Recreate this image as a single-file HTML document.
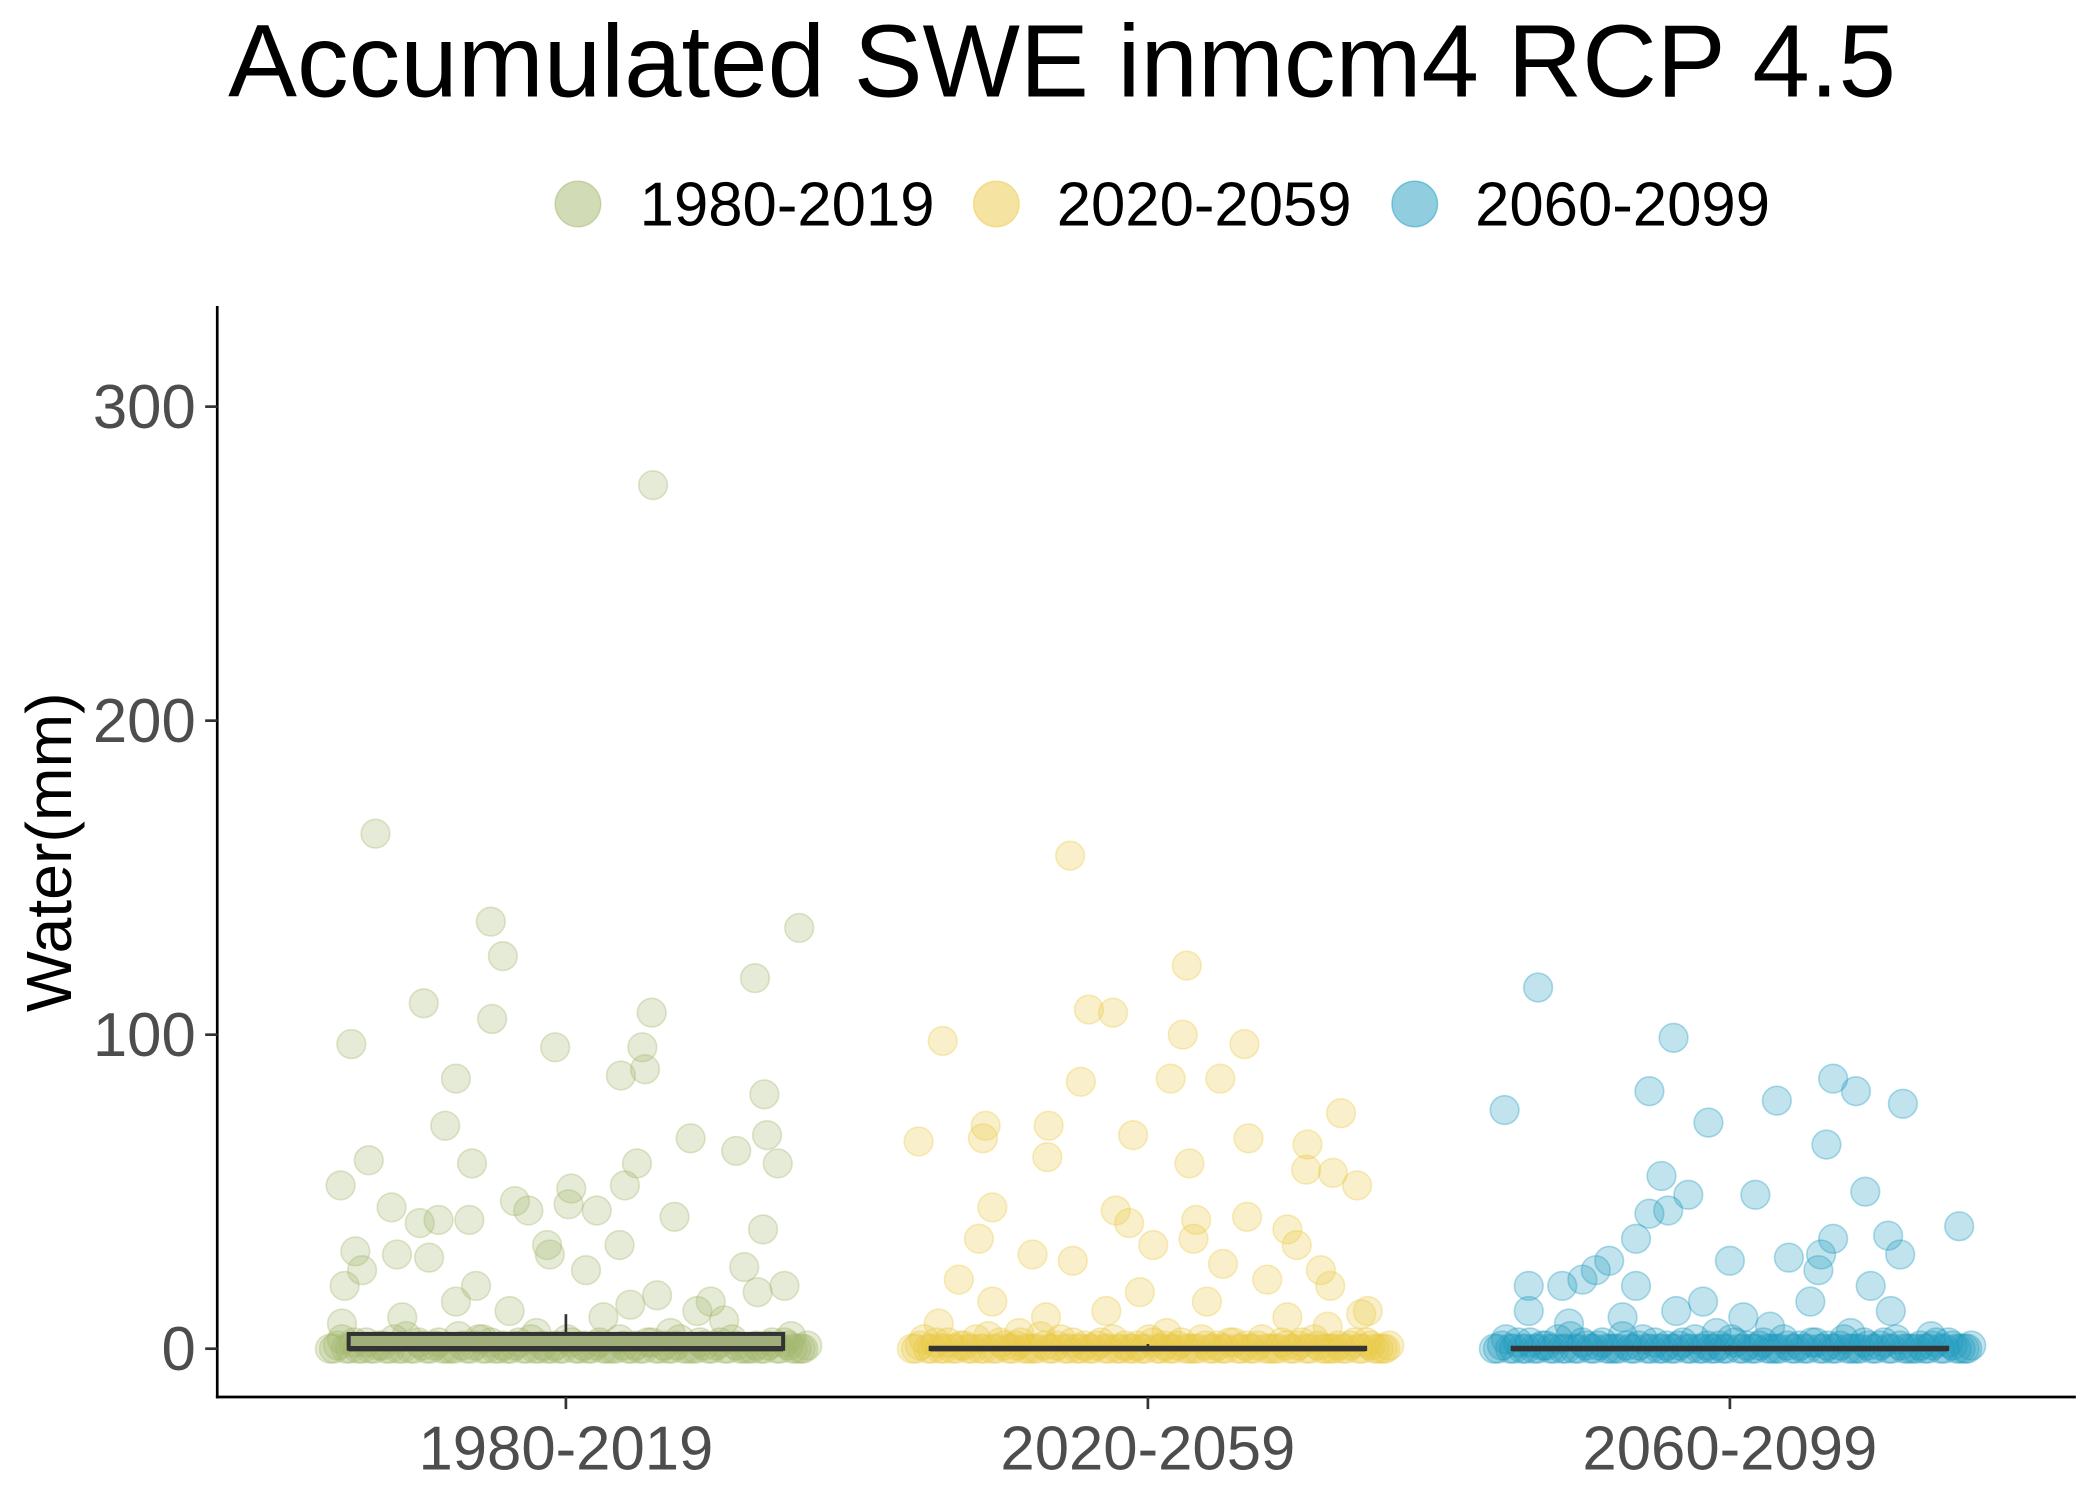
<!DOCTYPE html>
<html><head><meta charset="utf-8"><style>
html,body{margin:0;padding:0;background:#fff;}
svg{display:block;font-family:"Liberation Sans",sans-serif;}
</style></head><body>
<svg id="chart" width="2100" height="1499" viewBox="0 0 1566 1117" preserveAspectRatio="none">
<text x="792" y="72" font-size="77" text-anchor="middle" fill="#000">Accumulated SWE inmcm4 RCP 4.5</text>
<g>
<circle cx="431" cy="152" r="17" fill="#a3b86c" fill-opacity="0.5" stroke="#a3b86c" stroke-opacity="0.5"/>
<text x="477" y="168" font-size="46">1980-2019</text>
<circle cx="743" cy="152" r="17" fill="#ebc944" fill-opacity="0.5" stroke="#ebc944" stroke-opacity="0.5"/>
<text x="788" y="168" font-size="46">2020-2059</text>
<circle cx="1055" cy="152" r="17" fill="#1f9bc0" fill-opacity="0.5" stroke="#1f9bc0" stroke-opacity="0.5"/>
<text x="1100" y="168" font-size="46">2060-2099</text>
</g>
<g id="plot"></g>
<line x1="162" y1="228" x2="162" y2="1042" stroke="#000" stroke-width="2"/>
<line x1="161" y1="1041" x2="1548" y2="1041" stroke="#000" stroke-width="2"/>
<g id="axes"></g>
<text transform="translate(53,635) rotate(-90)" font-size="48" text-anchor="middle" fill="#000">Water(mm)</text>
</svg>
<script>
const categories=["1980-2019","2020-2059","2060-2099"];
const colors=["#a3b86c","#ebc944","#1f9bc0"];
const yTicks=[0,100,200,300];
const boxQ1=[0,0,0], boxMed=[0,0,0], boxQ3=[4.7,0.3,0.3], boxHi=[11,1.5,1];
const g1Jit=[-160,-142,-168,-147,-106,-56,-47,-55,-82,-90,-70,-8,65,64,57,59,41,44,53,93,81,127,141,174,148,150,158,147,4,-130,-109,-95,-72,-38,-28,-14,2,23,40,-126,-157,-152,-165,-102,-12,15,133,163,143,108,68,48,-67,-82,-42,-122,-167,28,98,118,78,-62,-22,168];
const g1Val=[97,164,52,60,110,136,125,105,86,71,59,96,275,107,96,89,87,52,59,67,42,63,118,134,81,68,59,38,51,45,40,41,41,47,44,33,46,44,33,30,31,25,20,29,30,25,26,20,18,15,17,14,20,15,12,10,8,10,12,9,5,3,5,4];
const g2Jit=[-171,-153,-121,-123,-74,-75,-58,-44,-26,-50,-11,29,26,17,54,72,31,75,144,119,118,138,156,-116,-141,-126,-86,-56,-24,-14,4,34,36,56,74,104,111,129,136,164,159,89,44,-6,-31,-76,-116,-156,-96,104,134,14];
const g2Val=[66,98,71,67,71,61,157,108,107,85,68,122,100,86,86,97,59,67,75,65,57,56,52,45,22,35,30,28,44,40,33,35,41,27,42,38,33,25,20,12,11,22,15,18,12,10,15,8,5,10,7,5];
const g3Jit=[-168,-143,-42,-60,-16,35,77,94,129,72,19,-31,-51,-46,-60,-70,101,171,118,127,77,68,66,44,0,-90,-100,-110,-125,-150,-70,-20,60,105,120,10,-40,-80,-120,-150,30,90,150,-10];
const g3Val=[76,115,99,82,72,79,86,82,78,65,49,49,55,44,43,35,50,39,36,30,35,30,25,29,28,28,25,22,20,20,20,15,15,20,12,10,12,10,8,12,7,5,4,5];
const zeroJit=[-176,-170,-164,-158,-152,-146,-140,-134,-128,-122,-116,-110,-104,-98,-92,-86,-80,-74,-68,-62,-56,-50,-44,-38,-32,-26,-20,-14,-8,-2,4,10,16,22,28,34,40,46,52,58,64,70,76,82,88,94,100,106,112,118,124,130,136,142,148,154,160,166,172,177];
const zeroVal=[0,1,0,2,0,0,1,0,3,0,0,2,0,1,0,0,4,0,1,0,2,0,0,1,0,3,0,0,1,0,2,0,0,1,0,0,3,0,1,0,2,0,0,1,0,0,2,0,1,0,3,0,0,1,0,2,0,1,0,0];
const jitters=[g1Jit,g2Jit,g3Jit], values=[g1Val,g2Val,g3Val];

const NS="http://www.w3.org/2000/svg";
const yS=v=>1005-v*2.34;
const xS=i=>422+i*434;
const plot=document.getElementById('plot'), axes=document.getElementById('axes');
function mk(tag,attrs,parent){const e=document.createElementNS(NS,tag);for(const k in attrs)e.setAttribute(k,attrs[k]);parent.appendChild(e);return e;}
categories.forEach((c,i)=>{
  const pts=values[i].map((v,j)=>[jitters[i][j],v]).concat(zeroVal.map((v,j)=>[zeroJit[j],v]),zeroVal.map((v,j)=>[zeroJit[j]+3,zeroVal[(j+7)%zeroVal.length]]));
  pts.forEach(([jx,v])=>{
    if(jx===undefined) return;
    const p=mk('circle',{cx:xS(i)+jx,cy:yS(v),r:10.7,fill:colors[i],'fill-opacity':0.28,stroke:colors[i],'stroke-opacity':0.35,'stroke-width':1.2},plot);
    
    
  });
  const bg=mk('g',{},plot);
  
  
  const x0=xS(i)-162,x1=xS(i)+162;
  mk('line',{x1:xS(i),x2:xS(i),y1:yS(boxQ3[i]),y2:yS(boxHi[i]),stroke:'#333',"stroke-width":2},bg);
  mk('rect',{x:x0,y:yS(boxQ3[i]),width:x1-x0,height:Math.max(1,yS(boxQ1[i])-yS(boxQ3[i])),fill:i==0?'#9fae7b':'none',stroke:'#333','stroke-width':3},bg);
  mk('line',{x1:x0,x2:x1,y1:yS(boxMed[i]),y2:yS(boxMed[i]),stroke:'#333','stroke-width':4},bg);
  const t=mk('text',{x:xS(i),y:1095,'font-size':46,'text-anchor':'middle',fill:'#4d4d4d'},axes);
  t.textContent=c;
  
  
  mk('line',{x1:xS(i),x2:xS(i),y1:1041,y2:1050,stroke:'#333','stroke-width':2},axes);
});
yTicks.forEach(v=>{
  mk('line',{x1:153,x2:162,y1:yS(v),y2:yS(v),stroke:'#333','stroke-width':2},axes);
  const t=mk('text',{x:146,y:yS(v)+16,'font-size':46,'text-anchor':'end',fill:'#4d4d4d'},axes);
  t.textContent=v;
  
  
});
</script>
</body></html>
